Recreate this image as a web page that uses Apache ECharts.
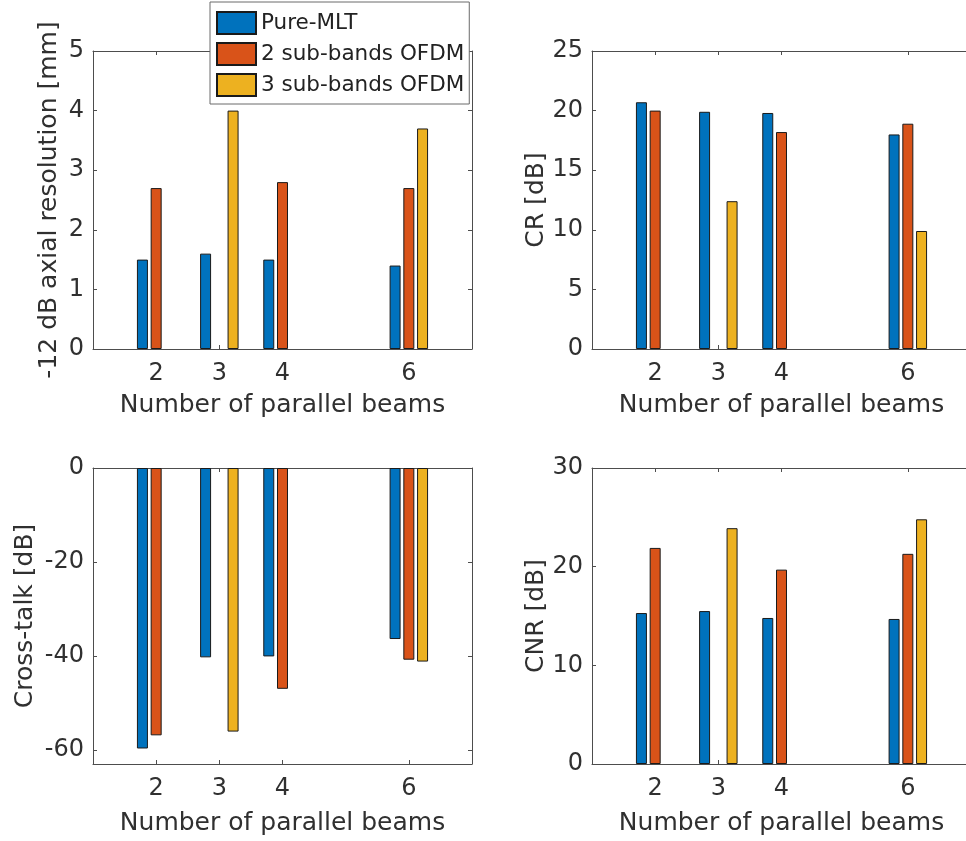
<!DOCTYPE html>
<html>
<head>
<meta charset="utf-8">
<script src="https://cdn.jsdelivr.net/npm/echarts@6/dist/echarts.min.js"></script>
<style>
html,body{margin:0;padding:0;background:#fff;}
#chart{width:966px;height:841px;}
</style>
</head>
<body>
<div id="chart"></div>
<script>
// ---- data ----
const xBeams = [2, 3, 4, 6];
const seriesNames = ['Pure-MLT', '2 sub-bands OFDM', '3 sub-bands OFDM'];

const axialPure  = [1.5, 1.6, 1.5, 1.4];
const axialOfdm2 = [2.7, null, 2.8, 2.7];
const axialOfdm3 = [null, 4.0, null, 3.7];

const crPure  = [20.7, 19.9, 19.8, 18.0];
const crOfdm2 = [20.0, null, 18.2, 18.9];
const crOfdm3 = [null, 12.4, null, 9.9];

const ctPure  = [-59.7, -40.3, -40.1, -36.4];
const ctOfdm2 = [-56.9, null, -47.0, -40.8];
const ctOfdm3 = [null, -56.1, null, -41.2];

const cnrPure  = [15.3, 15.5, 14.8, 14.7];
const cnrOfdm2 = [21.9, null, 19.7, 21.3];
const cnrOfdm3 = [null, 23.9, null, 24.8];

const xTicks = [2, 3, 4, 6];
const xLimits = [1, 7];
const yTicksAxial = [0, 1, 2, 3, 4, 5];
const yTicksCR = [0, 5, 10, 15, 20, 25];
const yTicksCT = [-60, -40, -20, 0];
const yTicksCNR = [0, 10, 20, 30];

const xTitle = 'Number of parallel beams';
const yTitles = ['-12 dB axial resolution [mm]', 'CR [dB]', 'Cross-talk [dB]', 'CNR [dB]'];

// ---- styles / layout ----
const colors = ['#0072BD', '#D95319', '#EDB120'];
const FONT = 'DejaVu Sans';
const axisColor = '#4d4d4d';
const textColor = '#303030';

const panels = [
  { grid: {left: 93, top: 51, width: 379, height: 298}, yMin: 0, yMax: 5, yTicks: yTicksAxial, values: [axialPure, axialOfdm2, axialOfdm3], yName: yTitles[0], yNameGap: 31, xNameGap: 44 },
  { grid: {left: 592, top: 51, width: 379, height: 298}, yMin: 0, yMax: 25, yTicks: yTicksCR, values: [crPure, crOfdm2, crOfdm3], yName: yTitles[1], yNameGap: 43, xNameGap: 44 },
  { grid: {left: 93, top: 468, width: 379, height: 296}, yMin: -63, yMax: 0, yTicks: yTicksCT, values: [ctPure, ctOfdm2, ctOfdm3], yName: yTitles[2], yNameGap: 55, xNameGap: 47 },
  { grid: {left: 592, top: 468, width: 379, height: 296}, yMin: 0, yMax: 30, yTicks: yTicksCNR, values: [cnrPure, cnrOfdm2, cnrOfdm3], yName: yTitles[3], yNameGap: 43, xNameGap: 47 }
];

const grids = [], xAxes = [], yAxes = [], series = [];
const lineStyle = {color: axisColor, width: 1};

panels.forEach((p, i) => {
  grids.push(Object.assign({outerBoundsMode: 'none', containLabel: false}, p.grid));
  xAxes.push({
    type: 'value', gridIndex: i, position: 'bottom', min: xLimits[0], max: xLimits[1],
    axisLine: {show: true, onZero: false, lineStyle},
    axisTick: {show: true, inside: true, length: 4, lineStyle, customValues: xTicks},
    axisLabel: {show: true, customValues: xTicks, margin: 13, fontFamily: FONT, fontSize: 24, color: textColor},
    splitLine: {show: false},
    name: xTitle, nameLocation: 'middle', nameGap: p.xNameGap,
    nameTextStyle: {fontFamily: FONT, fontSize: 25, color: textColor}
  });
  xAxes.push({
    type: 'value', gridIndex: i, position: 'top', min: xLimits[0], max: xLimits[1],
    axisLine: {show: true, onZero: false, lineStyle},
    axisTick: {show: true, inside: true, length: 4, lineStyle, customValues: xTicks},
    axisLabel: {show: false},
    splitLine: {show: false}
  });
  yAxes.push({
    type: 'value', gridIndex: i, position: 'left', min: p.yMin, max: p.yMax,
    axisLine: {show: true, onZero: false, lineStyle},
    axisTick: {show: true, inside: true, length: 4, lineStyle, customValues: p.yTicks},
    axisLabel: {show: true, customValues: p.yTicks, margin: 9, fontFamily: FONT, fontSize: 24, color: textColor},
    splitLine: {show: false},
    name: p.yName, nameLocation: 'middle', nameGap: p.yNameGap,
    nameTextStyle: {fontFamily: FONT, fontSize: 25, color: textColor}
  });
  yAxes.push({
    type: 'value', gridIndex: i, position: 'right', min: p.yMin, max: p.yMax,
    axisLine: {show: true, onZero: false, lineStyle},
    axisTick: {show: true, inside: true, length: 4, lineStyle, customValues: p.yTicks},
    axisLabel: {show: false},
    splitLine: {show: false}
  });
  p.values.forEach((vals, s) => {
    const data = [];
    xBeams.forEach((x, k) => { if (vals[k] !== null) data.push([x, vals[k]]); });
    series.push({
      type: 'bar', name: seriesNames[s],
      xAxisIndex: 2 * i, yAxisIndex: 2 * i,
      data: data,
      barWidth: '17.4%', barGap: '25%',
      itemStyle: {color: colors[s], borderColor: '#1a1a1a', borderWidth: 1},
      emphasis: {disabled: true},
      animation: false
    });
  });
});

const chart = echarts.init(document.getElementById('chart'), null, {renderer: 'canvas'});
chart.setOption({
  animation: false,
  backgroundColor: '#ffffff',
  grid: grids,
  xAxis: xAxes,
  yAxis: yAxes,
  legend: {
    data: seriesNames,
    orient: 'vertical',
    left: 210, top: 2,
    padding: [9, 5, 7, 6],
    itemWidth: 39, itemHeight: 22, itemGap: 7,
    icon: 'rect',
    backgroundColor: '#ffffff',
    borderColor: '#6a6a6a', borderWidth: 1,
    textStyle: {fontFamily: FONT, fontSize: 21.5, color: '#222', lineHeight: 22},
    selectedMode: false
  },
  series: series
});
</script>
</body>
</html>
